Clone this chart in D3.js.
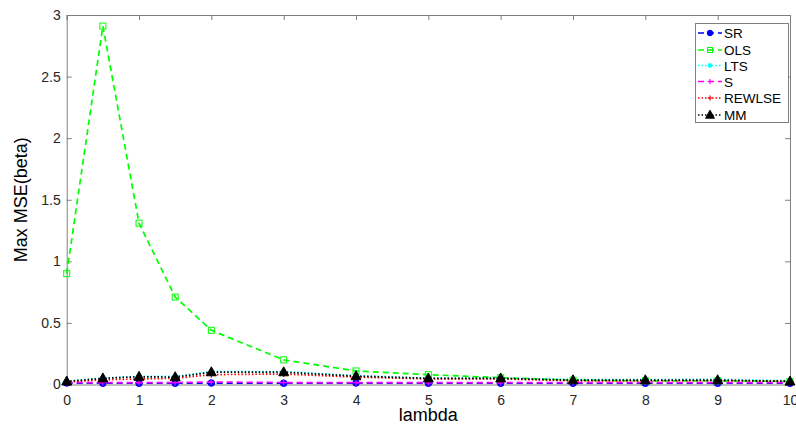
<!DOCTYPE html>
<html><head><meta charset="utf-8">
<script src="https://cdn.jsdelivr.net/npm/d3@7"></script>
<style>body{margin:0;background:#fff}svg{display:block;font-family:"Liberation Sans",Arial,sans-serif}</style>
</head><body><svg id="c" width="796" height="427"></svg>
<script>
const lambda = [0,0.5,1,1.5,2,3,4,5,6,7,8,9,10];
const SR     = [0.012,0.010,0.010,0.010,0.012,0.010,0.012,0.010,0.010,0.010,0.010,0.010,0.010];
const OLS    = [0.90,2.91,1.31,0.71,0.44,0.20,0.11,0.08,0.055,0.035,0.03,0.03,0.025];
const LTS    = [0.025,0.052,0.066,0.066,0.105,0.105,0.072,0.052,0.052,0.040,0.040,0.042,0.032];
const S      = [0.015,0.015,0.016,0.016,0.020,0.016,0.016,0.016,0.016,0.016,0.016,0.016,0.016];
const REWLSE = [0.020,0.038,0.045,0.050,0.080,0.085,0.060,0.045,0.045,0.030,0.030,0.032,0.028];
const MM     = [0.025,0.050,0.063,0.060,0.100,0.100,0.068,0.050,0.050,0.035,0.035,0.035,0.025];
const xTicks = [0,1,2,3,4,5,6,7,8,9,10];
const yTicks = [0,0.5,1,1.5,2,2.5,3];
const seriesNames = ["SR","OLS","LTS","S","REWLSE","MM"];
const seriesData = [SR,OLS,LTS,S,REWLSE,MM];

const styles = {
  SR:{color:"#0000ff",dash:"6,4",marker:"circle"},
  OLS:{color:"#00ff00",dash:"6,4",marker:"square"},
  LTS:{color:"#00ffff",dash:"1.5,2",marker:"star"},
  S:{color:"#ff00ff",dash:"6,4",marker:"plus"},
  REWLSE:{color:"#ff0000",dash:"1.5,2",marker:"plus"},
  MM:{color:"#000000",dash:"1.5,2",marker:"triangle"}
};

const svg = d3.select("#c");
const L=66.7,R=790,T=15,B=384.5;
const x = d3.scaleLinear().domain([0,10]).range([L,R]);
const y = d3.scaleLinear().domain([0,3]).range([B,T]);
const axisColor="#808080", textColor="#262626";

const g = svg.append("g");
const ax = g.append("g").attr("transform",`translate(0,${B})`).call(d3.axisBottom(x).tickValues(xTicks).tickSize(-5).tickPadding(11).tickFormat(d3.format("d")));
const axT = g.append("g").attr("transform",`translate(0,${T})`).call(d3.axisTop(x).tickValues(xTicks).tickSize(-5).tickFormat(""));
const ay = g.append("g").attr("transform",`translate(${L},0)`).call(d3.axisLeft(y).tickValues(yTicks).tickSize(-5).tickPadding(6).tickFormat(d=>String(d)));
const ayR = g.append("g").attr("transform",`translate(${R},0)`).call(d3.axisRight(y).tickValues(yTicks).tickSize(-5).tickFormat(""));
[ax,axT,ay,ayR].forEach(a=>{
  a.selectAll("path,line").attr("stroke",axisColor);
  a.selectAll("text").attr("fill",textColor).style("font-size","14px");
});

svg.append("text").attr("x",(L+R)/2).attr("y",421).attr("text-anchor","middle").attr("fill","#000").style("font-size","18px").text("lambda");
svg.append("text").attr("transform",`translate(27,${(T+B)/2}) rotate(-90)`).attr("text-anchor","middle").attr("fill","#000").style("font-size","18px").text("Max MSE(beta)");

function drawMarker(sel,type,color,cx,cy,s){
  if(type==="circle") sel.append("circle").attr("cx",cx).attr("cy",cy).attr("r",s*0.55).attr("fill",color).attr("stroke",color);
  else if(type==="square") sel.append("rect").attr("x",cx-s/2).attr("y",cy-s/2).attr("width",s).attr("height",s).attr("fill","none").attr("stroke",color).attr("stroke-width",1);
  else if(type==="plus"){ sel.append("path").attr("d",`M${cx-s/2},${cy}H${cx+s/2}M${cx},${cy-s/2}V${cy+s/2}`).attr("stroke",color).attr("stroke-width",1.2); }
  else if(type==="star"){ sel.append("path").attr("d",`M${cx-s/2},${cy}H${cx+s/2}M${cx},${cy-s/2}V${cy+s/2}M${cx-s*0.35},${cy-s*0.35}L${cx+s*0.35},${cy+s*0.35}M${cx-s*0.35},${cy+s*0.35}L${cx+s*0.35},${cy-s*0.35}`).attr("stroke",color).attr("stroke-width",1.2); }
  else if(type==="triangle"){ sel.append("path").attr("d",`M${cx},${cy-s*0.6}L${cx+s*0.55},${cy+s*0.4}L${cx-s*0.55},${cy+s*0.4}Z`).attr("fill",color).attr("stroke",color); }
}

const line = d3.line().x((d,i)=>x(lambda[i])).y(d=>y(d));
const plot = svg.append("g");
seriesNames.forEach((n,k)=>{
  const st=styles[n], data=seriesData[k];
  plot.append("path").datum(data).attr("d",line).attr("fill","none").attr("stroke",st.color).attr("stroke-width",1.7).attr("stroke-dasharray",st.dash);
  const mg=plot.append("g");
  data.forEach((v,i)=>drawMarker(mg,st.marker,st.color,x(lambda[i]),y(v),st.marker==="triangle"?9:6));
});

const lg = svg.append("g");
lg.append("rect").attr("x",695.5).attr("y",23.5).attr("width",93).attr("height",99).attr("fill","#fff").attr("stroke",axisColor);
const rowY=[33,50,65.5,81.5,98,115];
seriesNames.forEach((n,k)=>{
  const st=styles[n], yy=rowY[k];
  lg.append("line").attr("x1",698).attr("x2",722).attr("y1",yy).attr("y2",yy).attr("stroke",st.color).attr("stroke-width",1.6).attr("stroke-dasharray",st.dash);
  drawMarker(lg,st.marker,st.color,710,yy,st.marker==="triangle"?8:5);
  lg.append("text").attr("x",724).attr("y",yy+5).attr("fill","#000").style("font-size","13.5px").text(n);
});
</script></body></html>
